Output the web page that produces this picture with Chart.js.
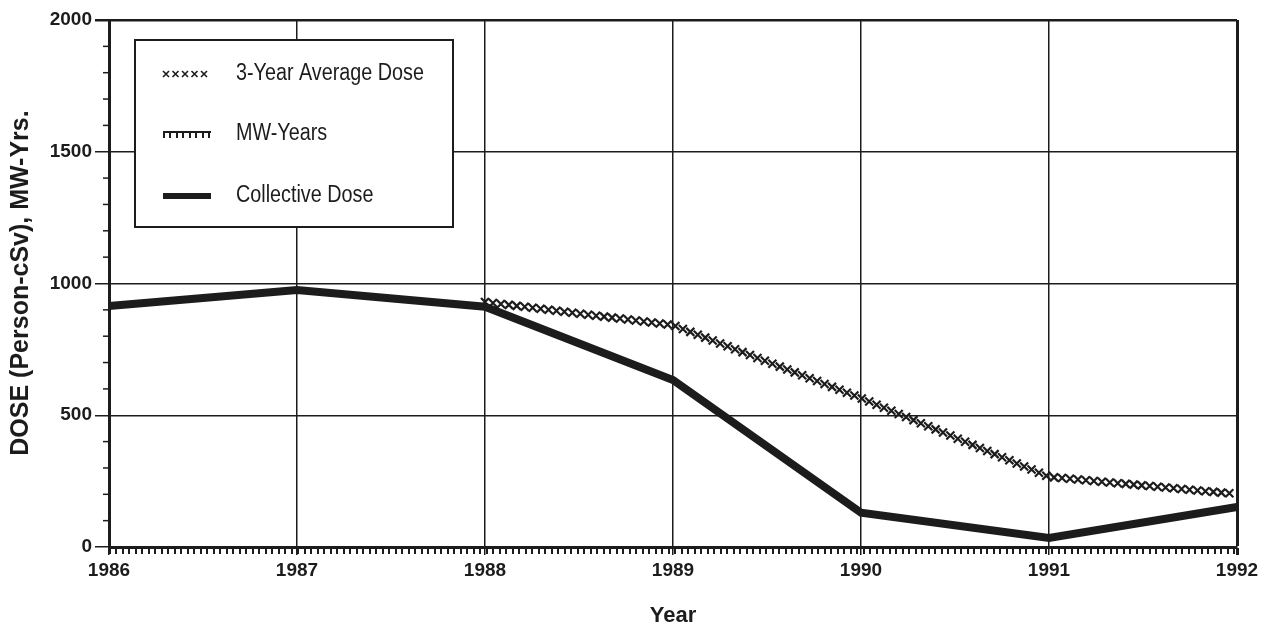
<!DOCTYPE html>
<html>
<head>
<meta charset="utf-8">
<script src="https://cdn.jsdelivr.net/npm/chart.js@4"></script>
<style>
  html, body { margin: 0; padding: 0; background: #fff; }
  #wrap { width: 1273px; height: 633px; }
</style>
</head>
<body>
<div id="wrap"><canvas id="chart"></canvas></div>
<script>
// values
const years = ["1986", "1987", "1988", "1989", "1990", "1991", "1992"];
const collectiveDose = [915, 975, 912, 634, 130, 34, 152];
const threeYearAvg = [null, null, 930, 842, 565, 266, 201];
const mwYears = [0, 0, 0, 0, 0, 0, 0];
const yTicks = [0, 500, 1000, 1500, 2000];
const yTitle = "DOSE (Person-cSv), MW-Yrs.";

const FONT = "'Liberation Sans', Arial, sans-serif";
const INK = "#1c1c1c";

// walks along a polyline and calls fn at regular steps
function walk(pts, step, fn) {
  let carry = 0;
  for (let i = 0; i < pts.length - 1; i++) {
    const a = pts[i], b = pts[i + 1];
    const len = Math.hypot(b.x - a.x, b.y - a.y);
    let d = carry;
    while (d <= len) {
      const t = d / len;
      fn(a.x + (b.x - a.x) * t, a.y + (b.y - a.y) * t);
      d += step;
    }
    carry = d - len;
  }
}

function drawCross(ctx, x, y, s) {
  ctx.beginPath();
  ctx.moveTo(x - s, y - s); ctx.lineTo(x + s, y + s);
  ctx.moveTo(x - s, y + s); ctx.lineTo(x + s, y - s);
  ctx.stroke();
}

function drawMW(ctx, pts, step) {
  ctx.beginPath();
  ctx.moveTo(pts[0].x, pts[0].y);
  for (let i = 1; i < pts.length; i++) ctx.lineTo(pts[i].x, pts[i].y);
  ctx.stroke();
  walk(pts, step, (x, y) => {
    ctx.beginPath();
    ctx.moveTo(x + 1, y); ctx.lineTo(x + 1, y + 6);
    ctx.moveTo(x + 7, y); ctx.lineTo(x + 7, y + 6);
    ctx.stroke();
  });
}

// narrow text by squeezing it horizontally
function condensedText(ctx, text, x, y, sx) {
  ctx.save();
  ctx.translate(x, y);
  ctx.scale(sx, 1);
  ctx.fillText(text, 0, 0);
  ctx.restore();
}

const decoPlugin = {
  id: "deco",
  afterDatasetsDraw(chart) {
    const ctx = chart.ctx;
    ctx.save();
    ctx.strokeStyle = INK;
    chart.data.datasets.forEach((ds, i) => {
      const meta = chart.getDatasetMeta(i);
      const pts = meta.data.filter((p, j) => ds.data[j] !== null).map(p => ({x: p.x, y: p.y}));
      if (ds.deco === "cross") {
        ctx.lineWidth = 2.2;
        walk(pts, 8, (x, y) => drawCross(ctx, x, y, 4));
      } else if (ds.deco === "mw") {
        ctx.lineWidth = 2;
        drawMW(ctx, pts.map(p => ({x: p.x, y: p.y + 1})), 13);
      }
    });
    ctx.restore();
  },
  afterDraw(chart) {
    const ctx = chart.ctx;
    const area = chart.chartArea;
    const y = chart.scales.y;
    ctx.save();
    // minor ticks on the value axis
    ctx.strokeStyle = INK;
    ctx.lineWidth = 1.5;
    for (let v = 100; v < 2000; v += 100) {
      if (v % 500 === 0) continue;
      const py = y.getPixelForValue(v);
      ctx.beginPath();
      ctx.moveTo(area.left - 6, py); ctx.lineTo(area.left, py);
      ctx.stroke();
    }
    // value axis title, condensed
    ctx.fillStyle = INK;
    ctx.font = "bold 25px " + FONT;
    ctx.textAlign = "center";
    ctx.textBaseline = "middle";
    const tw = ctx.measureText(yTitle).width;
    ctx.save();
    ctx.translate(21, 283);
    ctx.rotate(-Math.PI / 2);
    ctx.scale(Math.min(1, 362 / tw), 1);
    ctx.fillText(yTitle, 0, 0);
    ctx.restore();

    // legend box
    const bx = area.left + 26, by = area.top + 20, bw = 318, bh = 187;
    ctx.fillStyle = "#fff";
    ctx.fillRect(bx, by, bw, bh);
    ctx.lineWidth = 2;
    ctx.strokeRect(bx, by, bw, bh);
    ctx.font = "23px " + FONT;
    ctx.fillStyle = INK;
    ctx.textAlign = "left";
    ctx.textBaseline = "middle";
    const sx = 188 / ctx.measureText("3-Year Average Dose").width;
    const rows = [
      {label: "3-Year Average Dose", kind: "cross", dy: 34},
      {label: "MW-Years", kind: "mw", dy: 94},
      {label: "Collective Dose", kind: "solid", dy: 156},
    ];
    rows.forEach(r => {
      const ry = by + r.dy;
      const x0 = bx + 28, x1 = bx + 76;
      if (r.kind === "cross") {
        ctx.lineWidth = 1.6;
        for (let x = x0 + 3; x <= x1; x += 9.5) drawCross(ctx, x, ry, 3);
      } else if (r.kind === "mw") {
        ctx.lineWidth = 2;
        drawMW(ctx, [{x: x0, y: ry - 2}, {x: x1, y: ry - 2}], 13);
      } else {
        ctx.fillRect(x0, ry - 3, x1 - x0, 6);
      }
      condensedText(ctx, r.label, bx + 101, ry, sx);
    });
    ctx.restore();
  }
};

new Chart(document.getElementById("chart"), {
  type: "line",
  data: {
    labels: years,
    datasets: [
      {
        label: "Collective Dose",
        data: collectiveDose,
        borderColor: INK,
        borderWidth: 8,
        pointRadius: 0,
        tension: 0,
        order: 1,
      },
      {
        label: "3-Year Average Dose",
        data: threeYearAvg,
        borderColor: "transparent",
        borderWidth: 0,
        pointRadius: 0,
        deco: "cross",
        order: 2,
      },
      {
        label: "MW-Years",
        data: mwYears,
        borderColor: "transparent",
        borderWidth: 0,
        pointRadius: 0,
        deco: "mw",
        order: 3,
      },
    ],
  },
  options: {
    responsive: true,
    maintainAspectRatio: false,
    animation: false,
    layout: { padding: { top: 20, right: 36, left: 0, bottom: 0 } },
    plugins: { legend: { display: false }, tooltip: { enabled: false } },
    scales: {
      x: {
        offset: false,
        afterFit: (s) => { s.height = 86; },
        grid: {
          color: INK,
          lineWidth: (c) => (c.index === years.length - 1 ? 3 : 1.5),
          tickLength: 8,
        },
        border: { color: INK, width: 2 },
        ticks: { color: INK, font: { family: FONT, size: 19, weight: "bold" }, padding: 4, maxRotation: 0 },
        title: {
          display: true,
          text: "Year",
          color: INK,
          font: { family: FONT, size: 22, weight: "bold" },
          padding: { top: 4 },
        },
      },
      y: {
        min: 0,
        max: 2000,
        afterBuildTicks: (s) => { s.ticks = yTicks.map(v => ({value: v})); },
        afterFit: (s) => { s.width = 109; },
        grid: {
          color: INK,
          lineWidth: (c) => (c.tick && c.tick.value === 2000 ? 2.5 : 1.5),
          tickLength: 14,
        },
        border: { color: INK, width: 3 },
        ticks: {
          color: INK,
          font: { family: FONT, size: 19, weight: "bold" },
          padding: 3,
          callback: (v) => String(v),
        },
      },
    },
  },
  plugins: [decoPlugin],
});
</script>
</body>
</html>
